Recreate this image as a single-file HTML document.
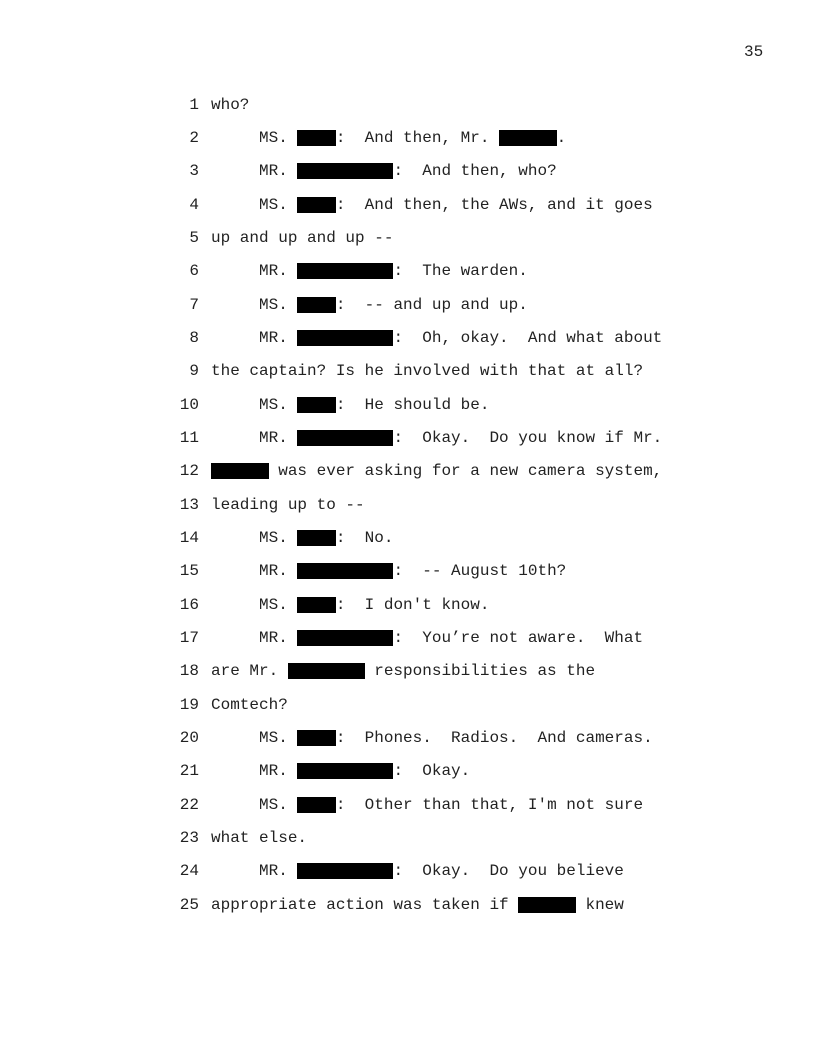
<!DOCTYPE html>
<html><head><meta charset="utf-8"><style>
body{margin:0;width:816px;height:1056px;background:#fff;position:relative;font-family:"Liberation Mono",monospace;font-size:16px;color:#222}
.l{position:absolute;left:0;height:16px;line-height:16px;white-space:pre}
.n{position:absolute;left:0;width:199px;text-align:right}
.t{position:absolute;left:211px}
.b{display:inline-block;background:#000;height:16px;vertical-align:top}
.pg{position:absolute;left:744px;top:44px;line-height:16px}
</style></head><body>
<div class="pg">35</div>
<div class="l" style="top:97px"><span class="n">1</span><span class="t">who?</span></div>
<div class="l" style="top:130px"><span class="n">2</span><span class="t">     MS. <span class="b" style="width:4ch"></span>:  And then, Mr. <span class="b" style="width:6ch"></span>.</span></div>
<div class="l" style="top:163.4px"><span class="n">3</span><span class="t">     MR. <span class="b" style="width:10ch"></span>:  And then, who?</span></div>
<div class="l" style="top:196.7px"><span class="n">4</span><span class="t">     MS. <span class="b" style="width:4ch"></span>:  And then, the AWs, and it goes</span></div>
<div class="l" style="top:230px"><span class="n">5</span><span class="t">up and up and up --</span></div>
<div class="l" style="top:263.4px"><span class="n">6</span><span class="t">     MR. <span class="b" style="width:10ch"></span>:  The warden.</span></div>
<div class="l" style="top:296.7px"><span class="n">7</span><span class="t">     MS. <span class="b" style="width:4ch"></span>:  -- and up and up.</span></div>
<div class="l" style="top:330px"><span class="n">8</span><span class="t">     MR. <span class="b" style="width:10ch"></span>:  Oh, okay.  And what about</span></div>
<div class="l" style="top:363.4px"><span class="n">9</span><span class="t">the captain? Is he involved with that at all?</span></div>
<div class="l" style="top:396.7px"><span class="n">10</span><span class="t">     MS. <span class="b" style="width:4ch"></span>:  He should be.</span></div>
<div class="l" style="top:430px"><span class="n">11</span><span class="t">     MR. <span class="b" style="width:10ch"></span>:  Okay.  Do you know if Mr.</span></div>
<div class="l" style="top:463.4px"><span class="n">12</span><span class="t"><span class="b" style="width:6ch"></span> was ever asking for a new camera system,</span></div>
<div class="l" style="top:496.7px"><span class="n">13</span><span class="t">leading up to --</span></div>
<div class="l" style="top:530px"><span class="n">14</span><span class="t">     MS. <span class="b" style="width:4ch"></span>:  No.</span></div>
<div class="l" style="top:563.4px"><span class="n">15</span><span class="t">     MR. <span class="b" style="width:10ch"></span>:  -- August 10th?</span></div>
<div class="l" style="top:596.7px"><span class="n">16</span><span class="t">     MS. <span class="b" style="width:4ch"></span>:  I don't know.</span></div>
<div class="l" style="top:630px"><span class="n">17</span><span class="t">     MR. <span class="b" style="width:10ch"></span>:  You’re not aware.  What</span></div>
<div class="l" style="top:663.4px"><span class="n">18</span><span class="t">are Mr. <span class="b" style="width:8ch"></span> responsibilities as the</span></div>
<div class="l" style="top:696.7px"><span class="n">19</span><span class="t">Comtech?</span></div>
<div class="l" style="top:730px"><span class="n">20</span><span class="t">     MS. <span class="b" style="width:4ch"></span>:  Phones.  Radios.  And cameras.</span></div>
<div class="l" style="top:763.4px"><span class="n">21</span><span class="t">     MR. <span class="b" style="width:10ch"></span>:  Okay.</span></div>
<div class="l" style="top:796.7px"><span class="n">22</span><span class="t">     MS. <span class="b" style="width:4ch"></span>:  Other than that, I'm not sure</span></div>
<div class="l" style="top:830px"><span class="n">23</span><span class="t">what else.</span></div>
<div class="l" style="top:863.4px"><span class="n">24</span><span class="t">     MR. <span class="b" style="width:10ch"></span>:  Okay.  Do you believe</span></div>
<div class="l" style="top:896.7px"><span class="n">25</span><span class="t">appropriate action was taken if <span class="b" style="width:6ch"></span> knew</span></div>
</body></html>
